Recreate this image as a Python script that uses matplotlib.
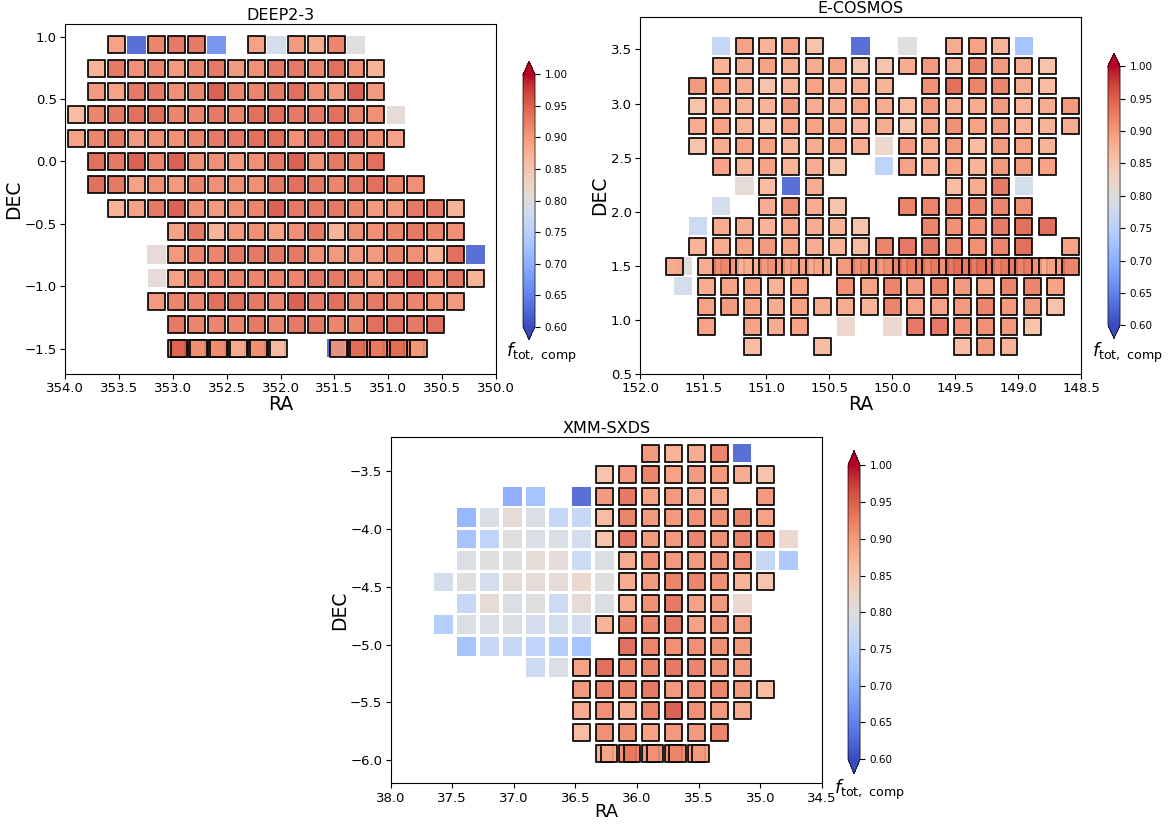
import numpy as np
import matplotlib.pyplot as plt
from matplotlib.colors import Normalize
from matplotlib.cm import ScalarMappable

CMAP = "coolwarm"
NORM = Normalize(vmin=0.6, vmax=1.0)
EDGE_CUT = 0.835  # pointings above this get a black outline

# DEEP2-3: centre of the first grid cell and grid step (RA, Dec)
deep2_ra0, deep2_dec0 = 353.89, 0.933
deep2_step = (0.185, 0.1866)
# (row, first column, f_tot,comp per pointing; None = no pointing)
deep2_rows = [
    (0, 2, [0.90, 0.62, 0.93, 0.94, 0.94, 0.66, None, 0.90, 0.78, 0.91, 0.89, 0.93, 0.80]),
    (1, 1, [0.88, 0.94, 0.92, 0.93, 0.91, 0.93, 0.94, 0.91, 0.92, 0.94, 0.94, 0.93, 0.95, 0.92, 0.88]),
    (2, 1, [0.91, 0.90, 0.94, 0.94, 0.92, 0.93, 0.96, 0.93, 0.93, 0.94, 0.95, 0.92, 0.91, 0.96, 0.91]),
    (3, 0, [0.87, 0.93, 0.94, 0.95, 0.95, 0.93, 0.93, 0.94, 0.93, 0.95, 0.95, 0.94, 0.94, 0.95, 0.93, 0.92, 0.81]),
    (4, 0, [0.90, 0.93, 0.94, 0.91, 0.92, 0.92, 0.93, 0.94, 0.94, 0.95, 0.95, 0.92, 0.94, 0.95, 0.94, 0.92, 0.90]),
    (5, 1, [0.95, 0.94, 0.96, 0.93, 0.96, 0.92, 0.92, 0.91, 0.92, 0.94, 0.96, 0.92, 0.94, 0.93, 0.95]),
    (6, 1, [0.95, 0.94, 0.90, 0.92, 0.91, 0.93, 0.92, 0.92, 0.92, 0.94, 0.95, 0.94, 0.93, 0.94, 0.95, 0.93, 0.92]),
    (7, 2, [0.88, 0.90, 0.94, 0.96, 0.92, 0.91, 0.92, 0.93, 0.96, 0.94, 0.94, 0.94, 0.93, 0.91, 0.91, 0.94, 0.94, 0.88]),
    (8, 5, [0.90, 0.94, 0.88, 0.91, 0.92, 0.90, 0.92, 0.94, 0.88, 0.92, 0.92, 0.93, 0.94, 0.93, 0.92]),
    (9, 4, [0.81, 0.91, 0.93, 0.93, 0.94, 0.94, 0.94, 0.94, 0.92, 0.91, 0.91, 0.91, 0.93, 0.92, 0.88, 0.95, 0.62]),
    (10, 4, [0.81, 0.90, 0.93, 0.93, 0.93, 0.93, 0.93, 0.93, 0.94, 0.94, 0.93, 0.91, 0.94, 0.96, 0.92, 0.94, 0.88]),
    (11, 4, [0.91, 0.93, 0.93, 0.95, 0.95, 0.94, 0.93, 0.96, 0.94, 0.95, 0.93, 0.94, 0.93, 0.93, 0.92, 0.91]),
    (12, 5, [0.94, 0.93, 0.93, 0.93, 0.94, 0.93, 0.94, 0.94, 0.93, 0.93, 0.95, 0.95, 0.94, 0.95]),
    # southern strip: overlapping pointings
    (13, 5, [0.92, 0.92, 0.93, 0.91, 0.92, 0.90]),
    (13, 13, [0.62, 0.93, 0.92, 0.93, 0.92]),
    (13, 5.12, [0.95, 0.91, 0.91, 0.88, 0.91, 0.86]),
    (13, 13.12, [0.90, 0.94, 0.93, 0.94, 0.90]),
]

# E-COSMOS
cosmos_ra0, cosmos_dec0 = 151.544, 3.532
cosmos_step = (0.185, 0.185)
cosmos_rows = [
    (0, 1, [0.76, 0.90, 0.88, 0.90, 0.86, None, 0.62, None, 0.80, None, 0.89, 0.90, 0.88, 0.72]),
    (1, 1, [0.88, 0.89, 0.90, 0.89, 0.89, 0.90, 0.86, 0.86, 0.89, 0.91, 0.89, 0.93, 0.91, 0.89, 0.86]),
    (2, 0, [0.91, 0.90, 0.89, 0.86, 0.88, 0.90, 0.89, 0.89, 0.88, None, 0.92, 0.95, 0.93, 0.93, 0.89, 0.87]),
    (3, 0, [0.86, 0.89, 0.88, 0.88, 0.91, 0.89, 0.89, 0.90, 0.89, 0.87, 0.91, 0.89, 0.89, 0.91, 0.88, 0.89, 0.91]),
    (4, 0, [0.89, 0.90, 0.88, 0.87, 0.90, 0.90, 0.90, 0.88, 0.89, 0.86, 0.90, 0.92, 0.90, 0.91, 0.88, 0.88, 0.89]),
    (5, 0, [0.86, 0.89, 0.90, 0.90, 0.88, 0.89, 0.90, 0.89, 0.82, 0.91, 0.89, 0.91, 0.87, 0.91, 0.90, 0.88]),
    (6, 1, [0.90, 0.88, 0.90, 0.88, 0.89, 0.86, None, 0.75, 0.90, 0.89, 0.90, 0.88, 0.91, 0.91, 0.90]),
    (7, 2, [0.81, 0.87, 0.62, 0.89, None, None, None, None, None, 0.87, 0.89, 0.94, 0.78]),
    (8, 1, [0.78, None, 0.89, 0.92, 0.89, 0.86, None, None, 0.93, 0.93, 0.93, 0.93, 0.93, 0.92]),
    (9, 0, [0.77, 0.89, 0.89, 0.88, 0.90, 0.89, 0.88, 0.86, None, None, 0.93, 0.92, 0.92, 0.94, 0.95, 0.95]),
    (10, 0, [0.88, 0.89, 0.90, 0.91, 0.90, 0.89, 0.88, 0.87, 0.93, 0.94, 0.94, 0.93, 0.92, 0.93, 0.95, None, 0.90]),
    # Dec ~1.5: two overlapping tilings
    (11, -0.64, [0.80, 0.89, 0.91, 0.88, 0.90, 0.90, 0.89, 0.91, 0.91, 0.93, 0.93, 0.92, 0.94, 0.94, 0.94, 0.92, 0.90]),
    (11, -1, [0.89, None, 0.92, 0.88, 0.91, 0.90, 0.89, None, 0.92, 0.91, 0.93, 0.93, 0.94, 0.94, 0.93, 0.93, 0.89, 0.93]),
    # southern tiling, shifted in RA
    (12, -0.64, [0.78, 0.89, 0.90, 0.90, 0.88, 0.90, None, 0.92, 0.90, 0.93, 0.91, 0.93, 0.91, 0.90, 0.93, 0.93, 0.90]),
    (13, 0.36, [0.90, 0.91, 0.90, 0.89, 0.90, 0.89, 0.89, 0.88, 0.93, 0.90, 0.90, 0.91, 0.93, 0.91, 0.91, 0.86]),
    (14, 0.36, [0.90, None, 0.90, 0.89, 0.90, None, 0.82, None, 0.82, 0.94, 0.94, 0.92, 0.92, 0.91, 0.86]),
    (15, 2.36, [0.87, None, None, 0.87, None, None, None, None, None, 0.87, 0.91, 0.88]),
]

# XMM-SXDS
xmm_ra0, xmm_dec0 = 37.570, -3.342
xmm_step = (0.1864, 0.1857)
xmm_rows = [
    (0, 9, [0.91, 0.88, 0.89, 0.93, 0.62]),
    (1, 7, [0.86, 0.91, 0.93, 0.90, 0.91, 0.91, 0.89, 0.86]),
    (2, 3, [0.69, 0.72, None, 0.62, 0.91, 0.94, 0.90, 0.91, 0.89, 0.89, None, 0.91]),
    (3, 1, [0.70, 0.79, 0.81, 0.79, 0.76, 0.76, 0.87, 0.93, 0.91, 0.91, 0.92, 0.92, 0.93, 0.90]),
    (4, 1, [0.72, 0.75, 0.80, 0.79, 0.79, 0.78, 0.86, 0.94, 0.91, 0.91, 0.93, 0.92, 0.93, 0.93, 0.82]),
    (5, 1, [0.79, 0.80, 0.80, 0.81, 0.81, 0.77, 0.79, 0.89, 0.92, 0.91, 0.91, 0.92, 0.92, 0.76, 0.73]),
    (6, 0, [0.78, 0.80, 0.78, 0.81, 0.81, 0.81, 0.82, 0.80, 0.89, 0.91, 0.93, 0.93, 0.92, 0.88, 0.86]),
    (7, 1, [0.76, 0.81, 0.79, 0.80, 0.77, 0.81, 0.79, 0.89, 0.92, 0.94, 0.90, 0.91, 0.82]),
    (8, 0, [0.74, 0.79, 0.79, 0.79, 0.78, 0.78, 0.78, 0.88, 0.93, 0.93, 0.94, 0.90, 0.92, 0.91]),
    (9, 1, [0.72, 0.76, 0.76, 0.75, 0.74, 0.72, None, 0.95, 0.93, 0.92, 0.92, 0.92, 0.91]),
    (10, 4, [0.77, 0.79, 0.90, 0.95, 0.93, 0.93, 0.94, 0.93, 0.92, 0.91]),
    (11, 6, [0.91, 0.93, 0.93, 0.94, 0.91, 0.92, 0.93, 0.91, 0.87]),
    (12, 6, [0.89, 0.92, 0.89, 0.93, 0.96, 0.92, 0.91, 0.89]),
    (13, 6, [0.87, 0.92, 0.92, 0.90, 0.91, 0.91, 0.93]),
    (14, 7, [0.88, 0.92, 0.91, 0.92, 0.90]),
    (14, 7.2, [0.89, 0.93, 0.91, 0.92, 0.90]),
]


def draw_field(ax, cax, rows, ra0, dec0, step, title, xlim, ylim, xticks, yticks):
    for row, col0, vals in rows:
        f = np.array([np.nan if v is None else v for v in vals])
        cols = col0 + np.arange(len(f))
        keep = ~np.isnan(f)
        f = f[keep]
        ra = ra0 - step[0] * cols[keep]
        dec = np.full(len(f), dec0 - step[1] * row)
        hi = f > EDGE_CUT
        ax.scatter(ra[~hi], dec[~hi], c=f[~hi], cmap=CMAP, norm=NORM,
                   marker="s", s=182, linewidths=0, alpha=0.9)
        ax.scatter(ra[hi], dec[hi], c=f[hi], cmap=CMAP, norm=NORM,
                   marker="s", s=148, edgecolors="k", linewidths=1.35, alpha=0.9)
    ax.set_xlim(*xlim)
    ax.set_ylim(*ylim)
    ax.set_xticks(xticks)
    ax.set_yticks(yticks)
    ax.tick_params(labelsize=9.5, pad=2.5)
    ax.set_title(title, fontsize=11.5, pad=3)
    ax.set_xlabel("RA", fontsize=13.5, labelpad=0)
    ax.set_ylabel("DEC", fontsize=13.5, labelpad=1)
    cb = plt.colorbar(ScalarMappable(norm=NORM, cmap=CMAP), cax=cax, extend="both")
    cb.set_ticks(np.arange(0.6, 1.001, 0.05))
    cb.ax.tick_params(labelsize=7.5)
    cb.outline.set_linewidth(0.5)


fig = plt.figure(figsize=(11.7, 8.25), dpi=100)

ax1 = fig.add_axes([0.0556, 0.5467, 0.3684, 0.4242])
cax1 = fig.add_axes([0.447, 0.5887, 0.0103, 0.3365])
draw_field(ax1, cax1, deep2_rows, deep2_ra0, deep2_dec0, deep2_step, "DEEP2-3",
           (354.0, 350.0), (-1.7, 1.1), np.arange(354.0, 349.9, -0.5), np.arange(-1.5, 1.01, 0.5))
fig.text(0.4628, 0.572, r"$f_{\rm tot,\ comp}$", fontsize=13, ha="center", va="center")

ax2 = fig.add_axes([0.5473, 0.5467, 0.3767, 0.4327])
cax2 = fig.add_axes([0.947, 0.590, 0.0103, 0.3455])
draw_field(ax2, cax2, cosmos_rows, cosmos_ra0, cosmos_dec0, cosmos_step, "E-COSMOS",
           (152.0, 148.5), (0.5, 3.8), np.arange(152.0, 148.4, -0.5), np.arange(0.5, 3.51, 0.5))
fig.text(0.9632, 0.572, r"$f_{\rm tot,\ comp}$", fontsize=13, ha="center", va="center")

ax3 = fig.add_axes([0.3339, 0.0505, 0.3686, 0.4200])
cax3 = fig.add_axes([0.7248, 0.0620, 0.0103, 0.3917])
draw_field(ax3, cax3, xmm_rows, xmm_ra0, xmm_dec0, xmm_step, "XMM-SXDS",
           (38.0, 34.5), (-6.2, -3.2), np.arange(38.0, 34.4, -0.5), np.arange(-6.0, -3.49, 0.5))
ax3.set_xlabel("RA", fontsize=13, labelpad=-1)
fig.text(0.743, 0.042, r"$f_{\rm tot,\ comp}$", fontsize=13, ha="center", va="center")

fig.savefig("out.png", dpi=100)
